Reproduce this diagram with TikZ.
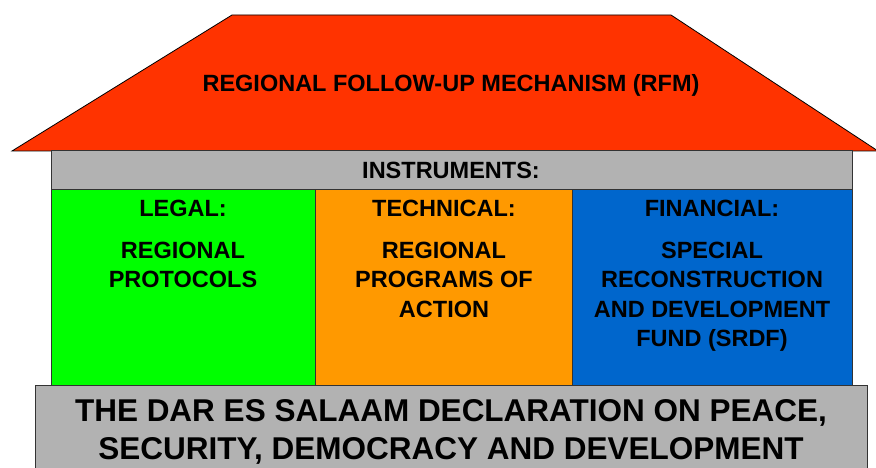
\documentclass[tikz,border=0pt]{standalone}
\usepackage{fontspec}
\setmainfont{Liberation Sans}
\definecolor{roofred}{HTML}{FF3300}
\definecolor{barg}{HTML}{B2B2B2}
\definecolor{legalg}{HTML}{00FF00}
\definecolor{techo}{HTML}{FF9900}
\definecolor{finb}{HTML}{0066CC}
\begin{document}
\begin{tikzpicture}[x=1pt,y=-1pt,
  panel/.style={draw=black!80,line width=0.9pt},
  lbl/.style={font=\fontsize{23.5}{29.5}\selectfont\bfseries,inner sep=0pt,align=center},
  biglbl/.style={font=\fontsize{31.5}{38}\selectfont\bfseries,inner sep=0pt,align=center}]
\useasboundingbox (0,0) rectangle (876,468);
\clip (0,0) rectangle (876,468);
% roof
\draw[fill=roofred,draw=black,line width=0.8pt] (12,151) -- (232,15) -- (671,15) -- (878,151) -- cycle;
\node[lbl] (rfm) at (451,85) {REGIONAL FOLLOW-UP MECHANISM (RFM)};
% instruments bar
\draw[panel,fill=barg] (51,150) rectangle (852,189);
\node[lbl] (instr) at (451,170) {INSTRUMENTS:};
% columns
\draw[panel,fill=legalg] (51,189) rectangle (315,386);
\draw[panel,fill=techo] (315,189) rectangle (572,386);
\draw[panel,fill=finb] (572,189) rectangle (852,386);
\node[lbl] (legal) at (183,208) {LEGAL:};
\node[lbl,anchor=north] (legalb) at (183,241.6) {REGIONAL\\PROTOCOLS};
\node[lbl] (tech) at (444,208) {TECHNICAL:};
\node[lbl,anchor=north] (techb) at (444,241.6) {REGIONAL\\PROGRAMS OF\\ACTION};
\node[lbl] (fin) at (712,208) {FINANCIAL:};
\node[lbl,anchor=north] (finb) at (712,241.6) {SPECIAL\\RECONSTRUCTION\\AND DEVELOPMENT\\FUND (SRDF)};
% foundation
\draw[panel,fill=barg] (35,385) rectangle (867,480);
\node[biglbl,anchor=north] (decl) at (451,399.3) {THE DAR ES SALAAM DECLARATION ON PEACE,\\SECURITY, DEMOCRACY AND DEVELOPMENT};
\end{tikzpicture}
\end{document}
